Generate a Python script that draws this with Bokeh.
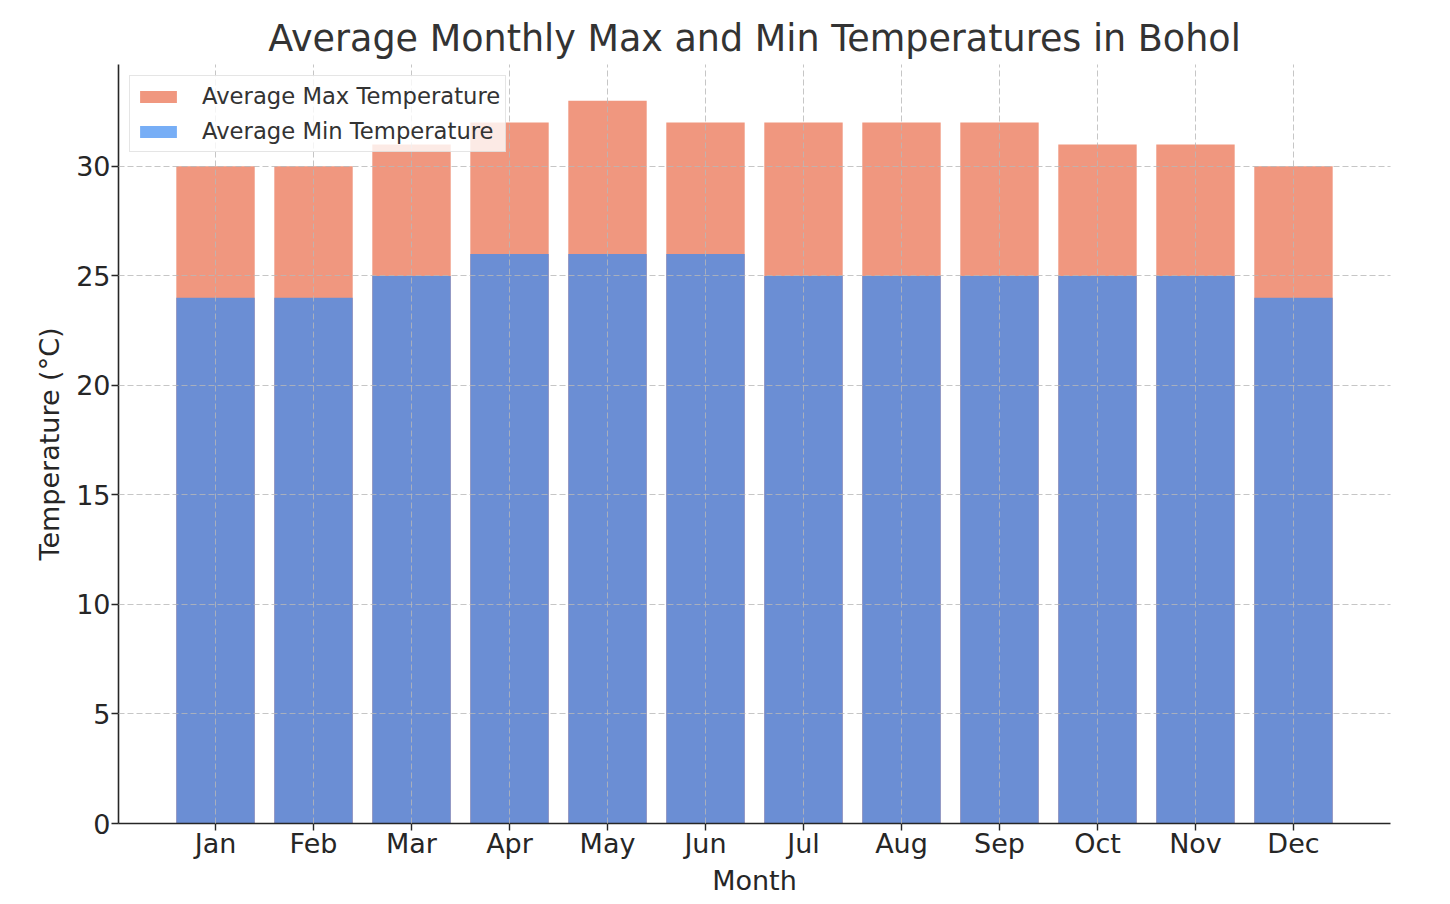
from bokeh.plotting import figure
from bokeh.models import ColumnDataSource, FactorRange, Range1d, FixedTicker, Legend, LegendItem
from bokeh.embed import file_html
from bokeh.resources import INLINE

months = ["Jan", "Feb", "Mar", "Apr", "May", "Jun", "Jul", "Aug", "Sep", "Oct", "Nov", "Dec"]
max_temp = [30, 30, 31, 32, 33, 32, 32, 32, 32, 31, 31, 30]
min_temp = [24, 24, 25, 26, 26, 26, 25, 25, 25, 25, 25, 24]
y_ticks = [0, 5, 10, 15, 20, 25, 30]

FONT = "DejaVu Sans"

src = ColumnDataSource(dict(month=months, tmax=max_temp, tmin=min_temp))

p = figure(
    x_range=FactorRange(factors=months, range_padding=0.49, range_padding_units="absolute"),
    y_range=Range1d(0, 34.65),
    frame_width=1272, frame_height=759,
    min_border_left=118, min_border_right=50, min_border_top=64, min_border_bottom=70,
    output_backend="svg", toolbar_location=None,
    title="Average Monthly Max and Min Temperatures in Bohol",
)

r_max = p.vbar(x="month", top="tmax", bottom=0, width=0.8, source=src,
               fill_color="#F0977F", line_color=None)
r_min = p.vbar(x="month", top="tmin", bottom=0, width=0.8, source=src,
               fill_color="#6B8ED4", line_color=None)
# legend swatch for the min series (lighter colour, as in the legend); zero height so it draws nothing
dummy = p.vbar(x="month", top="t", bottom="b", width=0.8,
               source=ColumnDataSource(dict(month=[months[0]], t=[0], b=[0])),
               fill_color="#77AEF6", line_color=None)

legend = Legend(items=[
    LegendItem(label="Average Max Temperature", renderers=[r_max]),
    LegendItem(label="Average Min Temperature", renderers=[dummy]),
], location="top_left")
legend.margin = 11
legend.padding = 5
legend.spacing = 5
legend.glyph_width = 46
legend.glyph_height = 15
legend.label_height = 30
legend.label_standoff = 21
legend.label_text_font = FONT
legend.label_text_font_size = "22.7px"
legend.label_text_color = "#333333"
legend.border_line_color = "#cccccc"
legend.border_line_width = 1.5
legend.background_fill_color = "white"
legend.background_fill_alpha = 0.8
p.add_layout(legend)

# title
p.title.text_font = FONT
p.title.text_font_size = "36.5px"
p.title.text_font_style = "normal"
p.title.text_color = "#333333"
p.title.align = "center"

# axes
for ax in (p.xaxis[0], p.yaxis[0]):
    ax.axis_line_color = "#262626"
    ax.axis_line_width = 1.6
    ax.major_tick_line_color = "#262626"
    ax.major_tick_line_width = 1.4
    ax.major_tick_out = 7
    ax.major_tick_in = 0
    ax.minor_tick_line_color = None
    ax.major_label_text_font = FONT
    ax.major_label_text_font_size = "27px"
    ax.major_label_text_color = "#262626"
    ax.axis_label_text_font = FONT
    ax.axis_label_text_font_size = "27px"
    ax.axis_label_text_font_style = "normal"
    ax.axis_label_text_color = "#262626"

p.xaxis.axis_label = "Month"
p.xaxis.major_label_standoff = -3
p.xaxis.axis_label_standoff = 3
p.yaxis.axis_label = "Temperature (°C)"
p.yaxis.ticker = FixedTicker(ticks=y_ticks)
p.yaxis.major_label_standoff = 1
p.yaxis.axis_label_standoff = 8

for g in (p.xgrid[0], p.ygrid[0]):
    g.grid_line_color = "#b8b8b8"
    g.grid_line_alpha = 0.8
    g.grid_line_dash = "6 3"
    g.grid_line_width = 1
    g.level = "guide"

p.outline_line_color = None
p.background_fill_color = "white"
p.border_fill_color = "white"

open("out.html", "w").write(file_html(p, INLINE))
